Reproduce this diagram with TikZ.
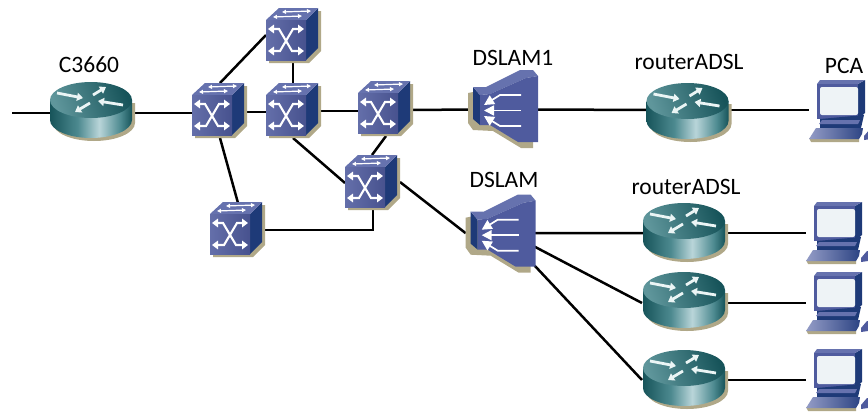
\documentclass[tikz,border=0pt]{standalone}
\usepackage{fontspec}
\setmainfont{Carlito}
\usetikzlibrary{arrows.meta,calc}
\definecolor{shadowc}{HTML}{B0A888}
\definecolor{swfront}{HTML}{4F5B9E}
\definecolor{swtop}{HTML}{6672AE}
\definecolor{swside}{HTML}{1E3A78}
\definecolor{tealdark}{HTML}{17545A}
\definecolor{tealmid}{HTML}{4D8A90}
\definecolor{teallight}{HTML}{B9D5D9}
\definecolor{pcscreen}{HTML}{EEF3F6}
\pgfdeclarehorizontalshading{routerside}{100bp}{color(0bp)=(tealdark);color(25bp)=(tealdark);color(42bp)=(tealmid);color(55bp)=(teallight);color(68bp)=(tealmid);color(75bp)=(tealdark);color(100bp)=(tealdark)}
\tikzset{
  x=1pt,y=-1pt,
  link/.style={line width=2.5pt,black},
  devbox/.style={inner sep=0pt,outer sep=0pt,minimum width=#1},
  swbox/.style={devbox=40pt,minimum height=40pt},
  rtbox/.style={devbox=82pt,minimum height=56pt},
  dsbox/.style={devbox=70pt,minimum height=77pt},
  pcbox/.style={devbox=62pt,minimum height=60pt},
  lbl/.style={font=\fontsize{23.5}{26}\selectfont,text=black,inner sep=0pt},
  whitearrow/.style={white!92!teal,line width=2.8pt,line cap=butt},
  tipout/.style={-{Triangle[length=6pt,width=8pt]}},
  switchicon/.pic={
    \fill[shadowc] (-17,23) -- (23,23) -- (35,11) -- (35,-29) -- (30,-29) -- (-17,15) -- cycle;
    \fill[swside] (20,-20) -- (32,-32) -- (32,8) -- (20,20) -- cycle;
    \fill[swtop] (-20,-20) -- (-7,-32) -- (32,-32) -- (20,-20) -- cycle;
    \shade[left color=swfront!88!white,right color=swfront!90!black] (-20,-20) rectangle (20,20);
    \draw[white,line width=2.1pt,{Triangle[length=6pt,width=8.5pt]}-{Triangle[length=6pt,width=8.5pt]}] (-18,-11) -- (-7,-11) -- (6,11) -- (18,11);
    \draw[white,line width=2.1pt,{Triangle[length=6pt,width=8.5pt]}-{Triangle[length=6pt,width=8.5pt]}] (18,-11) -- (7,-11) -- (-6,11) -- (-18,11);
    \draw[white,line width=1.2pt,{Triangle[length=4pt,width=4pt]}-{Triangle[length=4pt,width=4pt]}] (-4,-28) -- (25,-29);
    \draw[white,line width=1.2pt,{Triangle[length=4pt,width=4pt]}-{Triangle[length=4pt,width=4pt]}] (-13,-23) -- (16,-24);
  },
  routericon/.pic={
    \fill[shadowc] (-38,13) .. controls (-38,22.94) and (-19.6,31) .. (3,31) .. controls (25.6,31) and (44,22.94) .. (44,13) -- (44,-7) -- (-38,-7) -- cycle;
    \shade[shading=routerside] (-41,-10) -- (-41,10) .. controls (-41,19.94) and (-22.6,28) .. (0,28) .. controls (22.6,28) and (41,19.94) .. (41,10) -- (41,-10) -- cycle;
    \shade[left color=tealmid!90!white,right color=tealdark,shading angle=110] (0,-10) ellipse [x radius=41pt,y radius=18pt];
    \draw[whitearrow,tipout] (-34,-17) -- (-8,-12);
    \draw[whitearrow,tipout] (2,-15) -- (15,-23);
    \draw[whitearrow,tipout] (32,-5) -- (7,-9);
    \draw[whitearrow,tipout] (-1,-7) -- (-16,2);
  },
  dslamicon/.pic={
    \begin{scope}[shift={(-30,-21.5)}]
    \fill[shadowc] (-5,6) -- (-5,36) -- (0,43) -- (20,44) -- (48,61) -- (60,61) -- (60,40) -- (0,5) -- cycle;
    \fill[swside] (0,0) -- (7,8) -- (7,38) -- (0,32) -- cycle;
    \fill[swtop] (0,0) -- (13,0) -- (47,-17) -- (60,-17) -- (65,-11) -- (53,-9) -- (17,7) -- (7,8) -- cycle;
    \fill[swfront] (7,8) -- (17,7) -- (53,-9) -- (65,-11) -- (65,55) -- (45,55) -- (17,38) -- (7,38) -- cycle;
    \draw[white,line width=1.7pt,{Triangle[length=10pt,width=10pt]}-] (11,18) -- (27,8) -- (48,8);
    \draw[white,line width=1.7pt,{Triangle[length=10pt,width=10pt]}-] (11,23.5) -- (48,23.5);
    \draw[white,line width=1.7pt,{Triangle[length=10pt,width=10pt]}-] (11,29) -- (27,39) -- (48,39);
    \end{scope}
  },
  pcicon/.pic={
    \begin{scope}[shift={(-23,-30)}]
    \fill[shadowc] (-8,58) -- (42,58) -- (42,62) -- (-6,62) -- cycle;
    \fill[swside] (41,4) -- (48,0) -- (48,33) -- (41,39) -- cycle;
    \fill[swtop] (0,4) -- (3,0) -- (48,0) -- (41,4) -- cycle;
    \fill[swfront] (0,4) rectangle (41,39);
    \fill[pcscreen,rounded corners=2pt] (3,7) rectangle (41,35);
    \fill[swside] (3,39) -- (47,35) -- (44,48) -- (3,48) -- cycle;
    \fill[swtop] (5,40) -- (43,40) -- (41,44) -- (2,44) -- cycle;
    \shade[left color=swtop!70!white,right color=swside!70!swfront] (-8,59) -- (-1,48) -- (46,48) -- (45,54) -- (42,59) -- cycle;
    \fill[swfront] (47,56) -- (53,49) -- (54,49) -- (54,59) -- (47,60) -- cycle;
    \end{scope}
  }
}
\begin{document}
\begin{tikzpicture}
\useasboundingbox (0,0) rectangle (868,413);
% devices (invisible anchors)
\node[rtbox] (c3660) at (91,110) {};
\node[swbox] (s0) at (212,115) {};
\node[swbox] (s1) at (286,40) {};
\node[swbox] (s2) at (286,115) {};
\node[swbox] (s3) at (378,113) {};
\node[swbox] (s4) at (365,187) {};
\node[swbox] (s5) at (230,234) {};
\node[dsbox] (d1) at (503,108.5) {};
\node[dsbox] (d2) at (500.7,233.2) {};
\node[rtbox] (r1) at (687.5,111) {};
\node[rtbox] (r2) at (684,231) {};
\node[rtbox] (r3) at (684,300) {};
\node[rtbox] (r4) at (684,378) {};
\node[pcbox] (pca) at (840,110) {};
\node[pcbox] (p2) at (837,232) {};
\node[pcbox] (p3) at (837,302) {};
\node[pcbox] (p4) at (837,379) {};
\coordinate (in) at (12,113);
% links
\draw[link] (in) -- ([shift={(0,3)}]c3660.center);
\draw[link] ([shift={(0,3)}]c3660.center) -- ([shift={(0,-2)}]s0.center);
\draw[link] ([shift={(0,-3)}]s0.center) -- ([shift={(0,-3)}]s2.center);
\draw[link] ([shift={(8,-32)}]s0.center) -- ([shift={(-20,-5)}]s1.center);
\draw[link] ([shift={(7,0)}]s1.center) -- ([shift={(7,0)}]s2.center);
\draw[link] ([shift={(0,-4)}]s2.center) -- ([shift={(0,-2)}]s3.center);
\draw[link] ([shift={(0,-3)}]s3.center) -- ([shift={(0,1)}]d1.center);
\draw[link] ([shift={(0,1)}]d1.center) -- ([shift={(0,-1)}]r1.center);
\draw[link] ([shift={(0,-1)}]r1.center) -- (pca.west);
\draw[link] ([shift={(7,23)}]s2.center) -- ([shift={(-20,-4)}]s4.center);
\draw[link] ([shift={(8,23)}]s3.center) -- ([shift={(7,-32)}]s4.center);
\draw[link] ([shift={(35,-5)}]s4.center) -- (d2.west);
\draw[link] ([shift={(8,23)}]s0.center) -- ([shift={(8,-31)}]s5.center);
\draw[link] ([shift={(0,-4)}]s5.center) -| ([shift={(8,22)}]s4.center);
\draw[link] (d2.center) -- ([shift={(0,2)}]r2.center);
\draw[link] ([shift={(34,13.5)}]d2.center) -- ([shift={(-42,3)}]r3.center);
\draw[link] ([shift={(34,32.5)}]d2.center) -- ([shift={(-42,2)}]r4.center);
\draw[link] ([shift={(0,2)}]r2.center) -- ([shift={(0,1)}]p2.west);
\draw[link] ([shift={(0,3)}]r3.center) -- ([shift={(0,1)}]p3.west);
\draw[link] ([shift={(0,2)}]r4.center) -- ([shift={(0,1)}]p4.west);
% icons
\foreach \n in {s0,s1,s2,s3,s4,s5} { \pic at (\n.center) {switchicon}; }
\foreach \n in {c3660,r1,r2,r3,r4} { \pic at (\n.center) {routericon}; }
\foreach \n in {d1,d2} { \pic at (\n.center) {dslamicon}; }
\foreach \n in {pca,p2,p3,p4} { \pic at (\n.center) {pcicon}; }
% labels
\node[lbl] (l1) at (89,65) {C3660};
\node[lbl] (l2) at (513,58) {DSLAM1};
\node[lbl] (l3) at (689,62) {routerADSL};
\node[lbl] (l4) at (844,66) {PCA};
\node[lbl] (l5) at (504,180) {DSLAM};
\node[lbl] (l6) at (686,187) {routerADSL};
\end{tikzpicture}
\end{document}
